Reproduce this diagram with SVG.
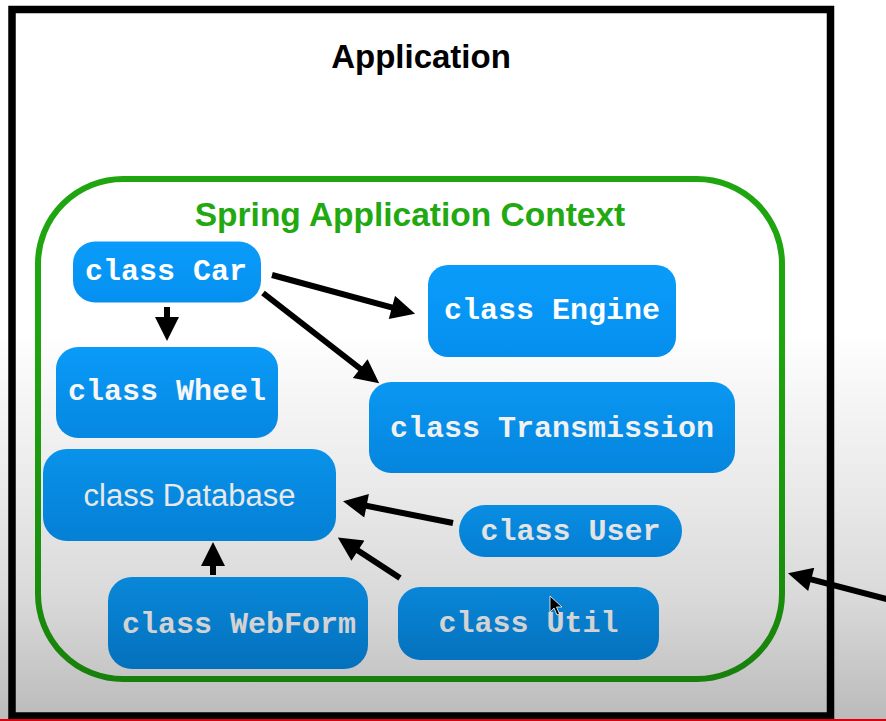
<svg xmlns="http://www.w3.org/2000/svg" width="886" height="721" viewBox="0 0 886 721">
<defs>
<linearGradient id="boxg" x1="0" y1="0" x2="0" y2="1">
<stop offset="0" stop-color="#0a9cfa"/>
<stop offset="1" stop-color="#0590f0"/>
</linearGradient>
<linearGradient id="shade" gradientUnits="userSpaceOnUse" x1="0" y1="0" x2="0" y2="721">
<stop offset="0" stop-color="#000" stop-opacity="0"/>
<stop offset="0.458" stop-color="#000" stop-opacity="0"/>
<stop offset="0.555" stop-color="#000" stop-opacity="0.04"/>
<stop offset="0.693" stop-color="#000" stop-opacity="0.09"/>
<stop offset="0.832" stop-color="#000" stop-opacity="0.15"/>
<stop offset="1" stop-color="#000" stop-opacity="0.27"/>
</linearGradient>
<marker id="ah" viewBox="0 0 10 10" refX="5" refY="5" markerWidth="26" markerHeight="24" markerUnits="userSpaceOnUse" orient="auto">
<path d="M0,0 L10,5 L0,10 z" fill="#000"/>
</marker>
<style>
.box{fill:url(#boxg);}
.mono{font-family:"Liberation Mono","Courier New",monospace;font-weight:bold;font-size:30px;fill:#fff;text-anchor:middle;}
.sans{font-family:"Liberation Sans",Arial,sans-serif;fill:#fff;text-anchor:middle;}
.conn{stroke:#000;stroke-width:6;fill:none;marker-end:url(#ah);}
</style>
</defs>
<rect x="0" y="0" width="886" height="721" fill="#fff"/>
<g id="application">
<rect x="12" y="9.5" width="818.5" height="706.5" fill="none" stroke="#000" stroke-width="7.5"/>
<text x="421" y="68" class="sans" style="font-size:33px;font-weight:bold;fill:#000">Application</text>
</g>
<g id="spring-context">
<rect x="38" y="179" width="744" height="500" rx="85" ry="85" fill="none" stroke="#1fa50f" stroke-width="6"/>
<text x="410" y="226" class="sans" style="font-size:33.5px;font-weight:bold;fill:#22a810">Spring Application Context</text>
</g>
<g id="car">
<rect class="box" x="73" y="241.5" width="188" height="61" rx="22"/>
<text x="166" y="280" class="mono">class Car</text>
</g>
<g id="wheel">
<rect class="box" x="56" y="347" width="222" height="91" rx="22"/>
<text x="167" y="400" class="mono">class Wheel</text>
</g>
<g id="engine">
<rect class="box" x="428" y="265" width="248" height="92" rx="20"/>
<text x="552" y="319" class="mono">class Engine</text>
</g>
<g id="transmission">
<rect class="box" x="369" y="382" width="366" height="91" rx="22"/>
<text x="552" y="437" class="mono">class Transmission</text>
</g>
<g id="database">
<rect class="box" x="43" y="449" width="293" height="92" rx="24"/>
<text x="189.5" y="506" class="sans" style="font-size:31px">class Database</text>
</g>
<g id="webform">
<rect class="box" x="108" y="577" width="260" height="92" rx="24"/>
<text x="239" y="633" class="mono">class WebForm</text>
</g>
<g id="user">
<rect class="box" x="459" y="505" width="223" height="52" rx="26"/>
<text x="570.5" y="540" class="mono">class User</text>
</g>
<g id="util">
<rect class="box" x="398" y="587" width="261" height="73" rx="22"/>
<text x="528.5" y="632" class="mono">class Util</text>
</g>
<g id="connectors">
<line class="conn" x1="272" y1="275" x2="403.5" y2="310.6"/>
<line class="conn" x1="263" y1="293" x2="369.7" y2="376"/>
<line class="conn" x1="167" y1="307" x2="167" y2="329"/>
<line class="conn" x1="453" y1="523" x2="354.8" y2="503.5"/>
<line class="conn" x1="400" y1="578" x2="347.9" y2="544.1"/>
<line class="conn" x1="213" y1="575" x2="213" y2="554"/>
<line class="conn" x1="890" y1="600" x2="799.6" y2="576.3"/>
</g>
<rect x="0" y="0" width="886" height="721" fill="url(#shade)"/>
<path d="M550,596 L550,612 L554,608 L557,615 L559.5,614 L556.5,607 L562,607 z" fill="#000" stroke="#fff" stroke-width="0.8"/>
<rect x="0" y="719" width="886" height="2" fill="#e0000c"/>
</svg>
